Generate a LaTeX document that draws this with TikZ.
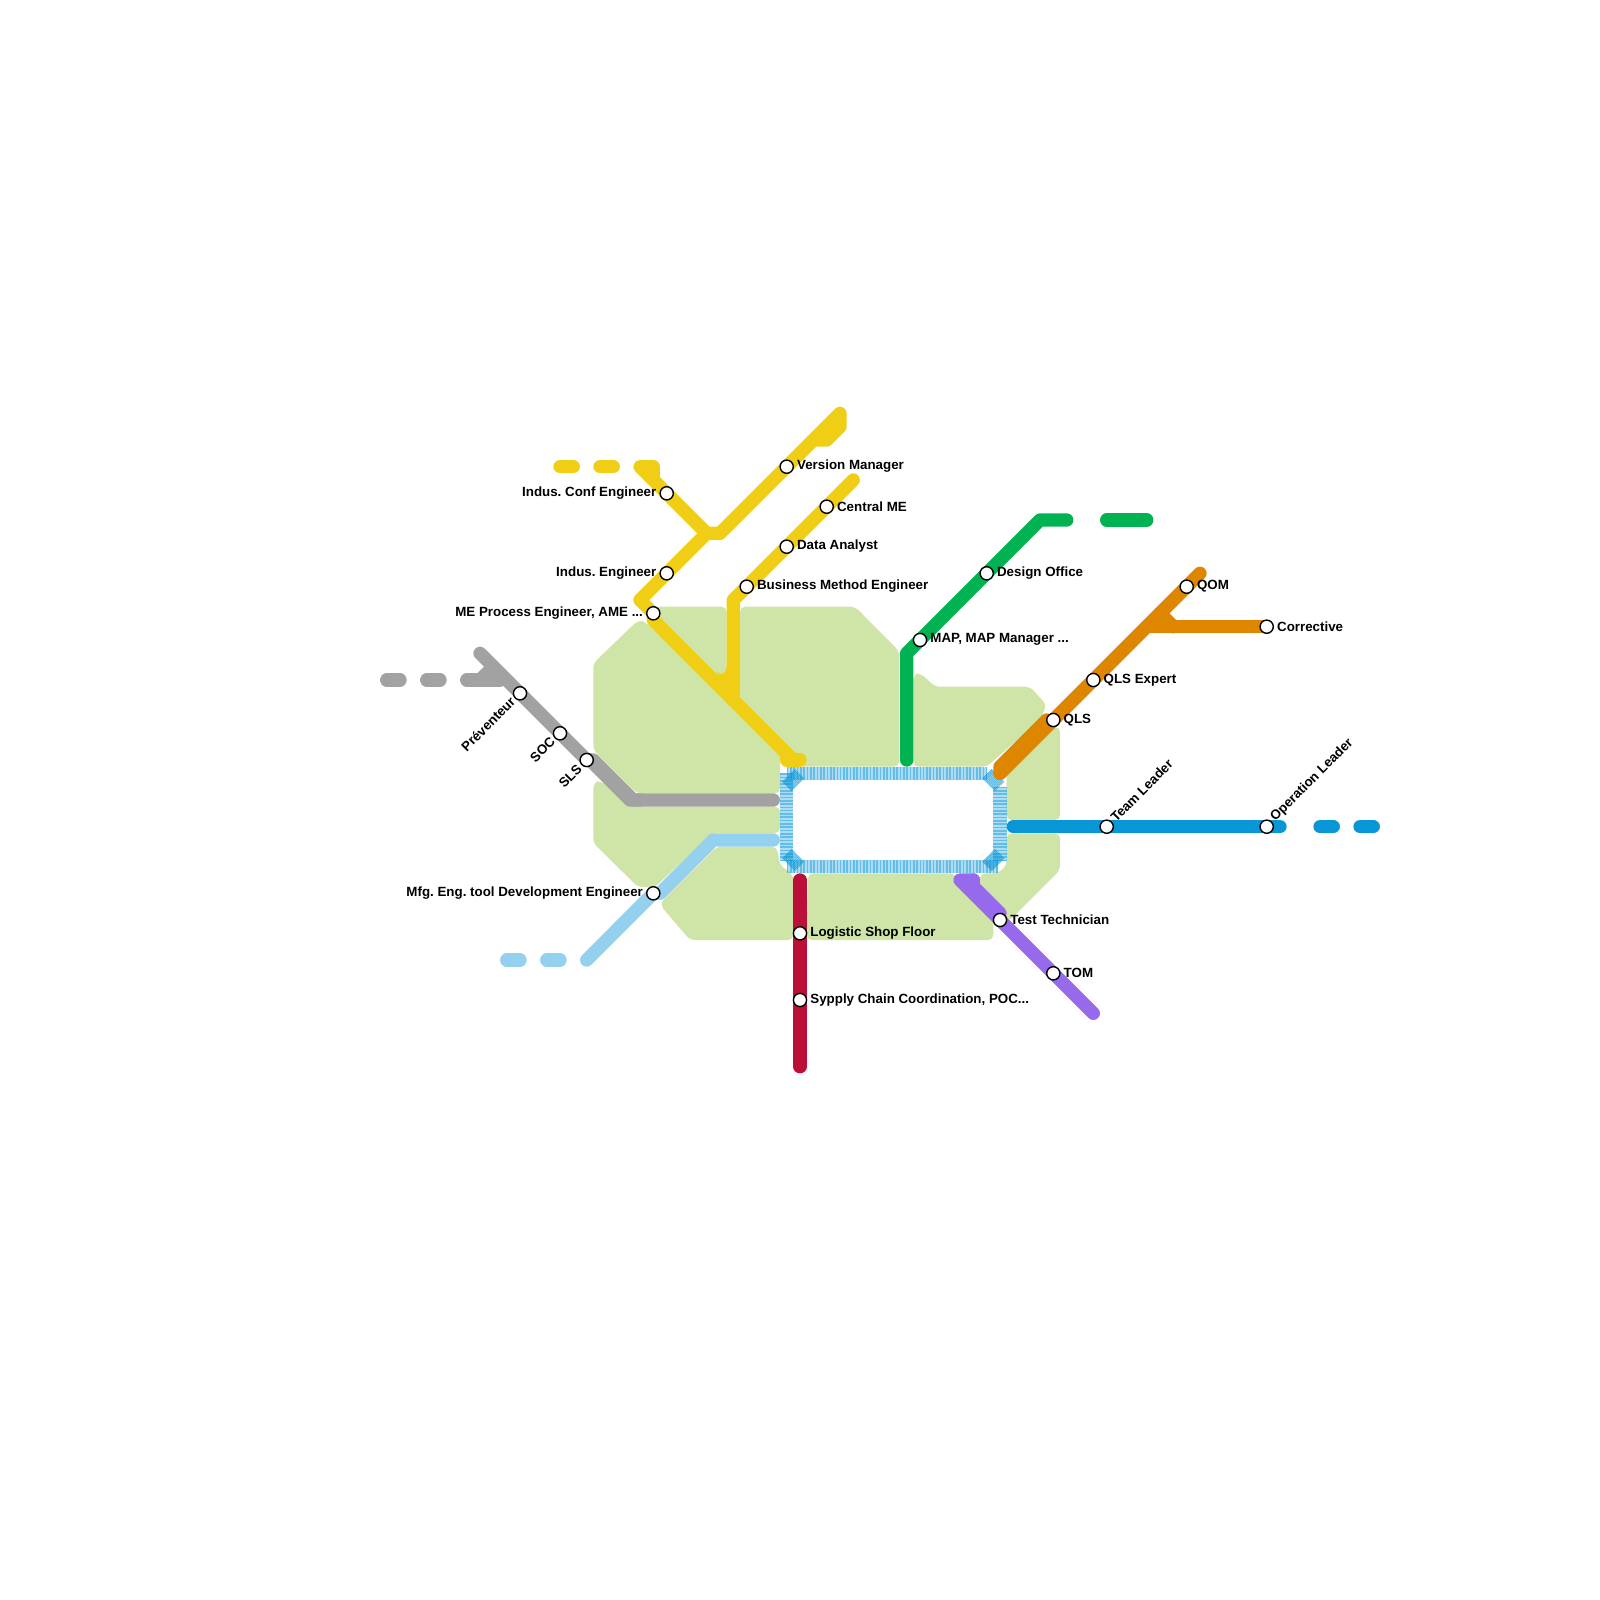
\documentclass[tikz,border=0pt]{standalone}
\usepackage{fontspec}
\setmainfont{Liberation Sans}
\frenchspacing
\definecolor{cpale}{HTML}{CFE4A7}
\definecolor{cyel}{HTML}{F0CE15}
\definecolor{cgry}{HTML}{A2A2A2}
\definecolor{cgrn}{HTML}{00B251}
\definecolor{corg}{HTML}{DF8600}
\definecolor{cblu}{HTML}{0896D7}
\definecolor{clbl}{HTML}{93D1EF}
\definecolor{cpur}{HTML}{9769EC}
\definecolor{cred}{HTML}{BD1038}
\tikzset{
 x=0.5pt,y=-0.5pt,
 zone/.style={fill=cpale,rounded corners=2.5pt},
 metro/.style={line width=6.667pt,line cap=round,line join=round},
 hatchU/.style={line width=6.667pt,line cap=butt,draw=cblu,draw opacity=.33},
 hatchH/.style={line width=6.667pt,line cap=butt,draw=cblu,draw opacity=.45,dash pattern=on .83pt off .83pt},
 hatchD/.style={line width=6.667pt,line cap=butt,draw=cblu,draw opacity=.6,dash pattern=on .4pt off .4pt},
 stn/.style={circle,draw=black,fill=white,line width=.7pt,minimum size=6.6pt,inner sep=0pt},
 lab/.style={font=\fontsize{6.67}{8}\selectfont\bfseries,inner sep=0pt,text=black},
}
\begin{document}
\begin{tikzpicture}
\useasboundingbox (0,0) rectangle (1600,1600);
% station positions
\coordinate (pIC) at (666.7,493.3);
\coordinate (pIE) at (666.7,573.3);
\coordinate (pME) at (653.3,613.3);
\coordinate (pVM) at (786.7,466.7);
\coordinate (pCM) at (826.7,506.7);
\coordinate (pDA) at (786.7,546.7);
\coordinate (pBM) at (746.7,586.7);
\coordinate (pPR) at (520,693.3);
\coordinate (pSO) at (560,733.3);
\coordinate (pSL) at (586.7,760);
\coordinate (pMF) at (653.3,893.3);
\coordinate (pLS) at (800,933.3);
\coordinate (pSC) at (800,1000);
\coordinate (pMA) at (920,640);
\coordinate (pDO) at (986.7,573.3);
\coordinate (pQL) at (1053.3,720);
\coordinate (pQE) at (1093.3,680);
\coordinate (pQO) at (1186.7,586.7);
\coordinate (pCO) at (1266.7,626.7);
\coordinate (pTL) at (1106.7,826.7);
\coordinate (pOL) at (1266.7,826.7);
\coordinate (pTT) at (1000,920);
\coordinate (pTO) at (1053.3,973.3);
% pale zones
\fill[zone] (593.3,663.3)--(638.3,620)--(645,622)--(700,670)--(780,750)--(780,793.3)--(636.7,793.3)--(593.3,750)--cycle;
\fill[zone] (655,606.7)--(726.7,606.7)--(726.7,690)--(720,685)--(655,622)--cycle;
\fill[zone] (740,606.7)--(855,606.7)--(899,651)--(899,766.7)--(800,766.7)--(740,700)--cycle;
\fill[zone] (913.3,675)--(920,672.7)--(935,686.7)--(1030,686.7)--(1046.7,705)--(1040,720)--(986.7,766.7)--(913.3,766.7)--cycle;
\fill[zone] (1006.7,770)--(1046,727)--(1060,727)--(1060,820)--(1006.7,820)--cycle;
\fill[zone] (1006.7,833.3)--(1060,833.3)--(1060,870)--(1008,922)--(980,890)--(980,873.3)--(998,873.3)--(1006.7,865)--cycle;
\fill[zone] (808,873.3)--(953,873.3)--(993.3,915)--(993.3,940)--(806.7,940)--cycle;
\fill[zone] (716.7,846.7)--(776.7,846.7)--(780,865)--(793.3,875)--(793.3,940)--(690,940)--(660,905)--(664,899)--cycle;
\fill[zone] (593.3,783)--(600,780)--(630,806.7)--(780,806.7)--(780,833)--(712,833)--(655,887)--(638,887)--(593.3,843)--cycle;
% hatched loop
\foreach \a/\b in {{(786.7,773.3)}/{(986.7,773.3)},{(786.7,866.7)}/{(998,866.7)},{(786.7,773.3)}/{(786.7,861)},{(1000,786.7)}/{(1000,861)}}{
  \draw[hatchU] \a--\b;
  \draw[hatchH] \a--\b;
}
\foreach \a/\b in {{(787,786.3)}/{(799.6,773.7)},{(787,853.7)}/{(799.6,866.3)},{(987,773.7)}/{(999.6,786.3)},{(999.6,853.7)}/{(987,866.3)}}{
  \draw[hatchU] \a--\b;
  \draw[hatchD] \a--\b;
}
% yellow
\draw[metro,cyel] (560,466.7)--(573.3,466.7);
\draw[metro,cyel] (600,466.7)--(613.3,466.7);
\draw[metro,cyel] (653.3,480)--(653.3,466.7)--(640,466.7)--(pIC)--(706.7,533.3)--(720,533.3)--(pVM)--(840,413.3)--(840,426.7)--(826.7,440)--(813.3,440);
\draw[metro,cyel] (706.7,533.3)--(pIE)--(640,600)--(pME)--(653.3,620)--(793.3,760);
\draw[metro,cyel] (786.7,753.3)--(786.7,760)--(800,760);
\draw[metro,cyel] (853.3,480)--(pCM)--(pDA)--(pBM)--(733.3,600)--(733.3,700);
\fill[cyel] (716.7,671.7) .. controls (720,675) and (726.7,676) .. (726.7,665)--(733.3,700)--cycle;
% gray
\draw[metro,cgry] (386.7,680)--(400,680);
\draw[metro,cgry] (426.7,680)--(440,680);
\draw[metro,cgry] (466.7,680)--(500,680);
\draw[metro,cgry] (480,680)--(493.3,666.7);
\draw[metro,cgry] (480,653.3)--(pPR)--(pSO)--(pSL)--(593.3,760)--(633.3,800)--(773.3,800);
\draw[metro,cgry] (pSL)--(590,760)--(630,800)--(640,800);
% light blue
\draw[metro,clbl] (506.7,960)--(520,960);
\draw[metro,clbl] (546.7,960)--(560,960);
\draw[metro,clbl] (586.7,960)--(pMF)--(660,893.3)--(713.3,840)--(773.3,840);
% green
\draw[metro,cgrn] (906.7,760)--(906.7,653.3)--(pMA)--(pDO)--(1040,520)--(1066.7,520);
\draw[metro,cgrn] (1106.7,520)--(1146.7,520);
% orange
\draw[metro,corg] (1000,773.3)--(pQL)--(pQE)--(pQO)--(1200,573.3);
\draw[metro,corg] (1000,773.3)--(1000,766.7)--(1046.7,720);
\draw[metro,corg] (1146.7,626.7)--(pCO);
\draw[metro,corg] (1160,613.3)--(1173.3,626.7);
% blue
\draw[metro,cblu] (1013.3,826.7)--(pTL)--(pOL)--(1280,826.7);
\draw[metro,cblu] (1320,826.7)--(1333.3,826.7);
\draw[metro,cblu] (1360,826.7)--(1373.3,826.7);
% red
\draw[metro,cred] (800,880)--(pLS)--(pSC)--(800,1066.7);
% purple
\draw[metro,cpur] (973.3,880)--(960,880)--(pTT)--(pTO)--(1093.3,1013.3);
\draw[metro,cpur] (973.3,880)--(973.3,886.7)--(1000,913.3);
% stations
\foreach \n in {IC,IE,ME,VM,CM,DA,BM,PR,SO,SL,MF,LS,SC,MA,DO,QL,QE,QO,CO,TL,OL,TT,TO}
  \node[stn] (s\n) at (p\n) {};
% labels
\node[lab,anchor=east] (tIC) at ([shift={(-10,-0.2)}]pIC) {Indus. Conf Engineer};
\node[lab,anchor=east] (tIE) at ([shift={(-10,-0.2)}]pIE) {Indus. Engineer};
\node[lab,anchor=east] (tME) at ([shift={(-10,-0.2)}]pME) {ME Process Engineer, AME ...};
\node[lab,anchor=east] (tMF) at ([shift={(-10,-0.2)}]pMF) {Mfg. Eng. tool Development Engineer};
\node[lab,anchor=west] (tVM) at ([shift={(10,-0.2)}]pVM) {Version Manager};
\node[lab,anchor=west] (tCM) at ([shift={(10,-0.2)}]pCM) {Central ME};
\node[lab,anchor=west] (tDA) at ([shift={(10,-0.2)}]pDA) {Data Analyst};
\node[lab,anchor=west] (tBM) at ([shift={(10,-0.2)}]pBM) {Business Method Engineer};
\node[lab,anchor=west] (tMA) at ([shift={(10,-0.2)}]pMA) {MAP, MAP Manager ...};
\node[lab,anchor=west] (tDO) at ([shift={(10,-0.2)}]pDO) {Design Office};
\node[lab,anchor=west] (tQL) at ([shift={(10,-0.2)}]pQL) {QLS};
\node[lab,anchor=west] (tQE) at ([shift={(10,-0.2)}]pQE) {QLS Expert};
\node[lab,anchor=west] (tQO) at ([shift={(10,-0.2)}]pQO) {QOM};
\node[lab,anchor=west] (tCO) at ([shift={(10,-0.2)}]pCO) {Corrective};
\node[lab,anchor=west] (tTT) at ([shift={(10,-0.2)}]pTT) {Test Technician};
\node[lab,anchor=west] (tTO) at ([shift={(10,-0.2)}]pTO) {TOM};
\node[lab,anchor=west] (tLS) at ([shift={(10,-0.2)}]pLS) {Logistic Shop Floor};
\node[lab,anchor=west] (tSC) at ([shift={(10,-0.2)}]pSC) {Sypply Chain Coordination, POC...};
\node[lab,anchor=east,rotate=45] (tPR) at ([shift={(-7,6)}]pPR) {Préventeur};
\node[lab,anchor=east,rotate=45] (tSO) at ([shift={(-7,6)}]pSO) {SOC};
\node[lab,anchor=east,rotate=45] (tSL) at ([shift={(-7,7)}]pSL) {SLS};
\node[lab,anchor=west,rotate=45] (tTL) at ([shift={(6,-7)}]pTL) {Team Leader};
\node[lab,anchor=west,rotate=45] (tOL) at ([shift={(6,-7)}]pOL) {Operation Leader};
\end{tikzpicture}
\end{document}
